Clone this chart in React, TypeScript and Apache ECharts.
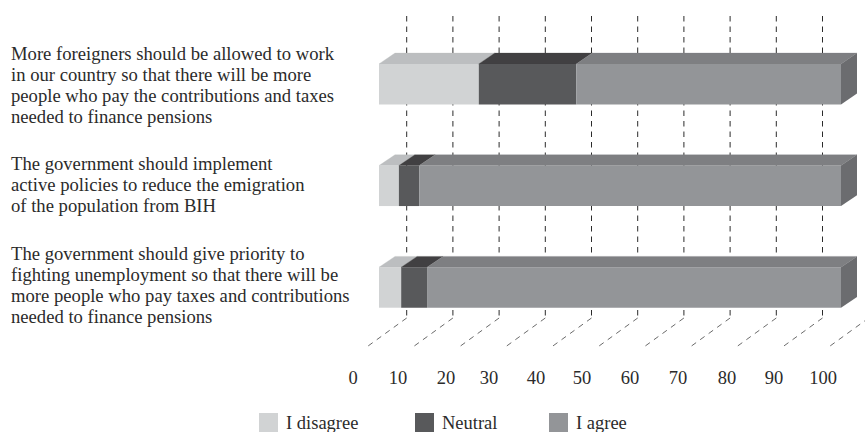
import React, { useEffect, useRef } from "react";
import * as echarts from "echarts";

const categories = [
  "More foreigners should be allowed to work\nin our country so that there will be more\npeople who pay the contributions and taxes\nneeded to finance pensions",
  "The government should implement\nactive policies to reduce the emigration\nof the population from BIH",
  "The government should give priority to\nfighting unemployment so that there will be\nmore people who pay taxes and contributions\nneeded to finance pensions",
];
const disagree = [21.6, 4.3, 4.8];
const neutral = [21.1, 4.4, 5.6];
const agree = [57.3, 91.3, 89.6];
const ticks = [0, 10, 20, 30, 40, 50, 60, 70, 80, 90, 100];

const FONT = "'Liberation Serif', 'Times New Roman', serif";
const DX = 16;
const DY = 10.8;
const BAR_H = 40.5;
const TICK_NUDGE = [0, -0.43, -0.21, -1.06, -1.06, -1.28, -1.06, -0.85, -0.43, -0.43, 0];
const LEGEND_LEFT = [259, 415, 549];

const parts = [
  { name: "I disagree", values: disagree, front: "#d1d3d4", top: "#bcbec0" },
  { name: "Neutral", values: neutral, front: "#58595b", top: "#414042" },
  { name: "I agree", values: agree, front: "#939598", top: "#7e7f82" },
];
const SIDE = "#6b6c6f";

export default function App() {
  const ref = useRef<HTMLDivElement>(null);
  useEffect(() => {
    document.body.style.margin = "0";
    const chart = echarts.init(ref.current!, undefined, { renderer: "svg" });
    const cum = categories.map(() => 0);
    const barSeries = parts.map((p, pi) => {
      const data = p.values.map((v, i) => {
        const row = [i, cum[i], cum[i] + v];
        cum[i] += v;
        return row;
      });
      return {
        type: "custom",
        name: p.name,
        z: 5,
        xAxisIndex: 0,
        yAxisIndex: 0,
        itemStyle: { color: p.front },
        encode: { x: [1, 2], y: 0 },
        data,
        renderItem: (_: any, api: any) => {
          const [x0, yc] = api.coord([api.value(1), api.value(0)]);
          const [x1] = api.coord([api.value(2), api.value(0)]);
          const y0 = yc - BAR_H / 2;
          const y1 = yc + BAR_H / 2;
          const children: any[] = [
            {
              type: "polygon",
              shape: { points: [[x0, y0], [x0 + DX, y0 - DY], [x1 + DX, y0 - DY], [x1, y0]] },
              style: { fill: p.top, stroke: p.top, lineWidth: 0.3 },
            },
            {
              type: "rect",
              shape: { x: x0, y: y0, width: x1 - x0, height: y1 - y0 },
              style: { fill: p.front },
            },
          ];
          if (pi === parts.length - 1) {
            children.push({
              type: "polygon",
              shape: { points: [[x1, y0], [x1 + DX, y0 - DY], [x1 + DX, y1 - DY], [x1, y1]] },
              style: { fill: SIDE },
            });
          }
          return { type: "group", children };
        },
      };
    });

    const gridSeries = {
      type: "custom",
      name: "grid",
      z: 1,
      xAxisIndex: 0,
      yAxisIndex: 0,
      silent: true,
      encode: { x: 0 },
      data: ticks.map((t) => [t]),
      renderItem: (_: any, api: any) => {
        const [x] = api.coord([api.value(0), 0]);
        const style = { stroke: "#2b2b2b", lineWidth: 1, lineDash: [5.5, 5], fill: "none" };
        return {
          type: "group",
          children: [
            {
              type: "line",
              shape: { x1: x + 27.7, y1: 16, x2: x + 27.7, y2: 318 },
              style,
            },
            {
              type: "line",
              shape: { x1: x + 27.7, y1: 318, x2: x - 12.3, y2: 347 },
              style: { ...style, lineWidth: 0.8, stroke: "#444" },
            },
          ],
        };
      },
    };

    const hiddenX = {
      type: "value",
      min: 0,
      max: 100,
      axisLine: { show: false },
      axisTick: { show: false },
      axisLabel: { show: false },
      splitLine: { show: false },
    };

    chart.setOption({
      animation: false,
      backgroundColor: "#ffffff",
      textStyle: { fontFamily: FONT },
      grid: [
        { left: 379, width: 462, top: 33.3, height: 305 },
        { left: 353, width: 470, top: 300, height: 66 },
        { left: 379, width: 462, top: 34.6, height: 300 },
      ],
      xAxis: [
        { ...hiddenX, gridIndex: 0 },
        {
          type: "value",
          gridIndex: 1,
          min: 0,
          max: 100,
          axisLine: { show: false },
          axisTick: { show: false },
          splitLine: { show: false },
          axisLabel: {
            margin: 2,
            color: "#2b2b2b",
            fontFamily: FONT,
            fontSize: 18.5,
            hideOverlap: false,
            showMinLabel: true,
            showMaxLabel: true,
            customValues: ticks.map((t, i) => t + TICK_NUDGE[i]),
            formatter: (v: number) => String(Math.round(v / 10) * 10),
          },
        },
        { ...hiddenX, gridIndex: 2 },
      ],
      yAxis: [
        {
          type: "category",
          gridIndex: 0,
          inverse: true,
          data: categories,
          axisLine: { show: false },
          axisTick: { show: false },
          splitLine: { show: false },
          axisLabel: { show: false },
        },
        {
          type: "value",
          gridIndex: 1,
          show: false,
        },
        {
          type: "category",
          gridIndex: 2,
          inverse: true,
          data: categories,
          axisLine: { show: false },
          axisTick: { show: false },
          splitLine: { show: false },
          axisLabel: {
            interval: 0,
            align: "left",
            margin: 368,
            color: "#2b2b2b",
            fontFamily: FONT,
            fontSize: 18.65,
            lineHeight: 21,
          },
        },
      ],
      legend: parts.map((p, i) => ({
        left: LEGEND_LEFT[i],
        top: 413,
        padding: 0,
        itemWidth: 19,
        itemHeight: 19,
        icon: "rect",
        data: [p.name],
        textStyle: { fontFamily: FONT, fontSize: 18.5, color: "#2b2b2b", padding: [0, 0, 0, 3] },
      })),
      series: [gridSeries, ...barSeries],
    });
    return () => chart.dispose();
  }, []);
  return <div ref={ref} style={{ width: 865, height: 432, position: "absolute", left: 0, top: 0 }} />;
}
